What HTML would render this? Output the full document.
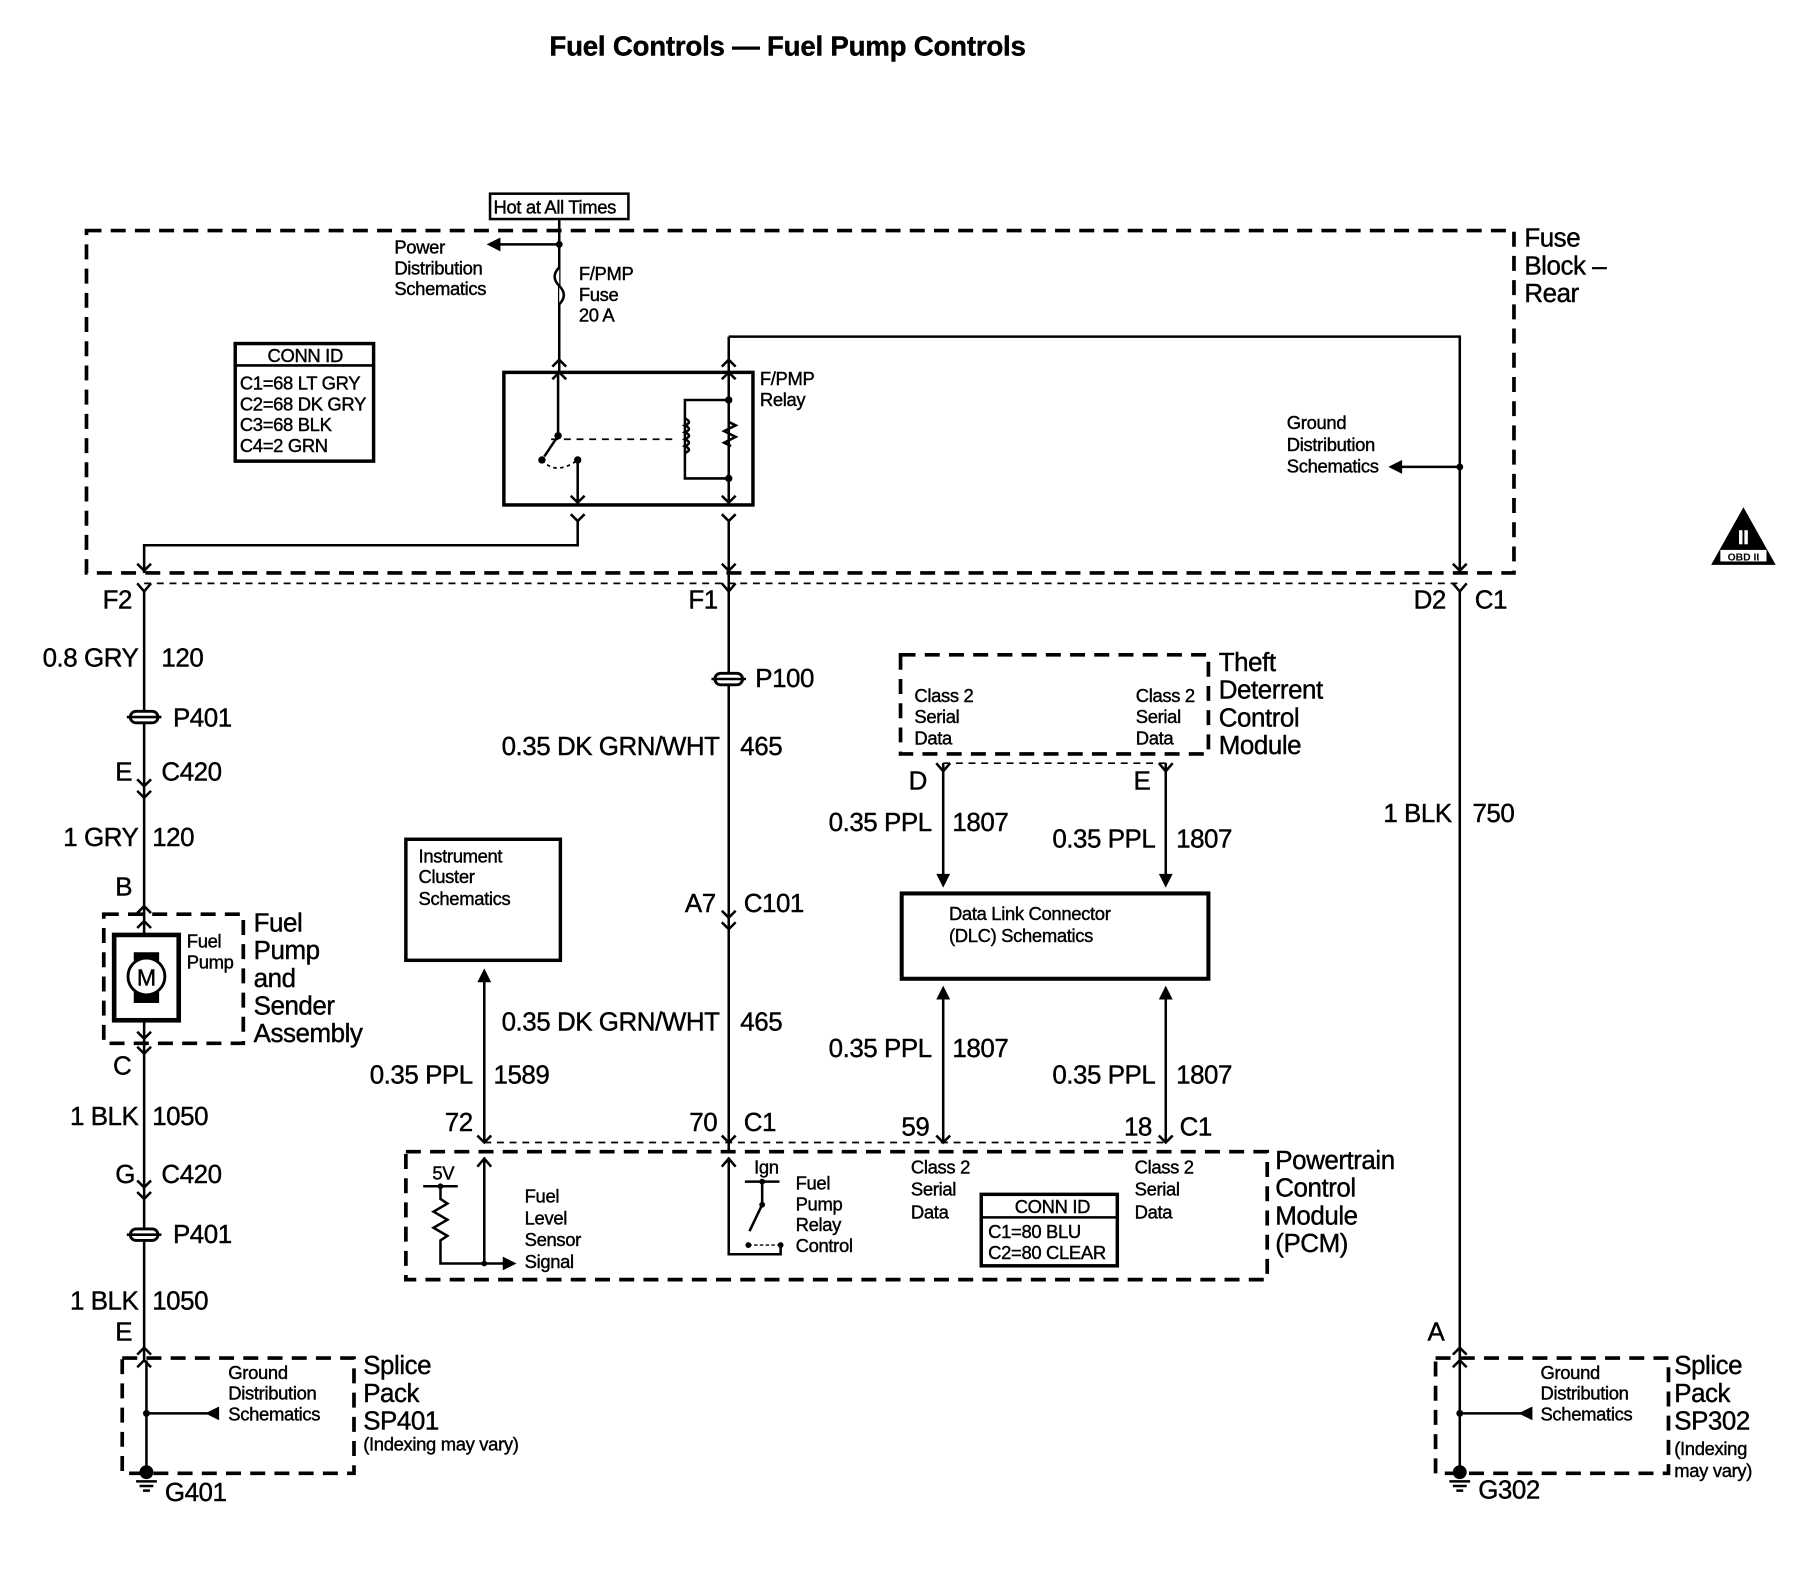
<!DOCTYPE html>
<html><head><meta charset="utf-8">
<style>
html,body{margin:0;padding:0;background:#fff;}
svg{display:block;}
text{font-family:"Liberation Sans",Arial,sans-serif;fill:#000;stroke:#000;stroke-width:0.35;}
.s{font-size:16px;letter-spacing:-0.3px;}
.m{font-size:22.5px;letter-spacing:-0.4px;}
.w{stroke:#000;stroke-width:2.2;fill:none;}
.t{stroke:#000;stroke-width:3;fill:none;}
.d{stroke:#000;stroke-width:3.2;fill:none;stroke-dasharray:13,8;}
.dd{stroke:#000;stroke-width:1.5;fill:none;stroke-dasharray:6,5;}
</style></head><body>
<svg width="1808" height="1584" viewBox="0 0 1568 1374" preserveAspectRatio="none" xmlns="http://www.w3.org/2000/svg">
<text x="683" y="48" text-anchor="middle" style="font-size:24px;font-weight:bold;letter-spacing:-0.2px">Fuel Controls — Fuel Pump Controls</text>

<rect x="425" y="168" width="120" height="22" class="w"/>
<text x="428" y="185" class="s">Hot at All Times</text>
<path class="w" d="M485 190 V323"/>
<circle cx="485" cy="212" r="3"/>
<path class="w" d="M485 212 H428"/>
<path d="M422 212 L434 206 L434 218 Z"/>
<text class="s" x="342" y="220">Power</text>
<text class="s" x="342" y="238">Distribution</text>
<text class="s" x="342" y="256">Schematics</text>
<path d="M485 232 q-8 8 0 16 q8 8 0 16" stroke="#000" stroke-width="2.2" fill="#fff"/>
<text class="s" x="502" y="243">F/PMP</text>
<text class="s" x="502" y="261">Fuse</text>
<text class="s" x="502" y="279">20 A</text>

<rect x="75" y="200" width="1238" height="297" class="d"/>
<text class="m" x="1322" y="214">Fuse</text>
<text class="m" x="1322" y="238">Block –</text>
<text class="m" x="1322" y="262">Rear</text>

<rect x="204" y="298" width="120" height="102" class="t"/>
<path class="w" d="M204 317 H324"/>
<text class="s" x="232" y="314">CONN ID</text>
<text class="s" x="208" y="338">C1=68 LT GRY</text>
<text class="s" x="208" y="356">C2=68 DK GRY</text>
<text class="s" x="208" y="374">C3=68 BLK</text>
<text class="s" x="208" y="392">C4=2 GRN</text>

<rect x="437" y="323" width="216" height="115" class="t"/>
<path class="w" d="M479 318 L485 312 L491 318 M479 329 L485 323 L491 329 M626 318 L632 312 L638 318 M626 329 L632 323 L638 329"/>
<path class="w" d="M484 323 V378 L472 396"/>
<circle cx="484" cy="378" r="3.2"/><circle cx="470" cy="399" r="3.2"/>
<circle cx="501" cy="399" r="3.2"/>
<path class="dd" d="M478 381 H585"/>
<path d="M470 399 q12 14 31 0" stroke="#000" stroke-width="1.5" fill="none" stroke-dasharray="3,3"/>
<path class="w" d="M501 399 V438 M495 430 L501 436 L507 430"/>
<path class="w" d="M632 323 V438 M626 430 L632 436 L638 430"/>
<path class="w" d="M632 347 H594 V415 H632"/>
<circle cx="632" cy="347" r="3.2"/><circle cx="632" cy="415" r="3.2"/>
<path class="w" d="M594 363 q7 3 0 6 q7 3 0 6 q7 3 0 6 q7 3 0 6 q7 3 0 6"/>
<path class="w" d="M632 366 l6 3 l-10 5 l10 5 l-10 5 l6 3"/>
<text class="s" x="659" y="334">F/PMP</text>
<text class="s" x="659" y="352">Relay</text>

<path class="w" d="M495 446 L501 452 L507 446 M501 452 V473 H125 V497 M626 446 L632 452 L638 446 M632 452 V1000"/>
<path class="w" d="M632 292 V323 M632 292 H1266 V497"/>
<circle cx="1266" cy="405" r="3"/>
<path class="w" d="M1266 405 H1212"/>
<path d="M1204 405 L1216 399 L1216 411 Z"/>
<text class="s" x="1116" y="372">Ground</text>
<text class="s" x="1116" y="391">Distribution</text>
<text class="s" x="1116" y="410">Schematics</text>
<path class="w" d="M119 489 L125 495 L131 489 M626 489 L632 495 L638 489 M1260 489 L1266 495 L1272 489"/>
<path class="dd" d="M125 506 H1266"/>
<path class="w" d="M119 506 L125 513 L131 506 M626 506 L632 513 L638 506 M1260 506 L1266 513 L1272 506"/>
<text class="m" x="89" y="528">F2</text>
<text class="m" x="597" y="528">F1</text>
<text class="m" x="1226" y="528">D2</text>
<text class="m" x="1279" y="528">C1</text>
<path d="M1512 440 L1540 490 L1484 490 Z"/>
<rect x="1492" y="477" width="40" height="10" fill="#fff"/>
<text x="1512" y="486" text-anchor="middle" style="font-size:9px;font-weight:bold;stroke-width:0">OBD II</text>
<text x="1512" y="472" text-anchor="middle" style="font-size:17px;font-weight:bold;fill:#fff;stroke:#fff;stroke-width:0.5">II</text>

<path class="w" d="M125 513 V1180"/>
<text class="m" x="120" y="578" text-anchor="end">0.8 GRY</text>
<text class="m" x="140" y="578">120</text>
<g id="pt"><rect x="113" y="617" width="24" height="10" rx="5" fill="#fff" stroke="#000" stroke-width="2.5"/><path class="w" d="M110 622 H140"/></g>
<text class="m" x="150" y="630">P401</text>
<text class="m" x="100" y="677">E</text><text class="m" x="140" y="677">C420</text>
<path class="w" d="M119 676 L125 682 L131 676 M119 686 L125 692 L131 686"/>
<text class="m" x="120" y="734" text-anchor="end">1 GRY</text><text class="m" x="132" y="734">120</text>
<text class="m" x="100" y="777">B</text>
<path class="w" d="M119 792 L125 786 L131 792 M119 805 L125 799 L131 805 M119 895 L125 901 L131 895 M119 908 L125 914 L131 908"/>
<rect x="90" y="793" width="121" height="112" class="d"/>
<rect x="99" y="811" width="56" height="74" stroke="#000" stroke-width="4" fill="#fff"/>
<rect x="116" y="826" width="22" height="44"/>
<circle cx="127" cy="847" r="16" fill="#fff" stroke="#000" stroke-width="2.5"/>
<text x="127" y="855" text-anchor="middle" style="font-size:20px">M</text>
<text class="s" x="162" y="822">Fuel</text><text class="s" x="162" y="840">Pump</text>
<text class="m" x="220" y="808">Fuel</text><text class="m" x="220" y="832">Pump</text><text class="m" x="220" y="856">and</text><text class="m" x="220" y="880">Sender</text><text class="m" x="220" y="904">Assembly</text>
<text class="m" x="98" y="932">C</text>
<text class="m" x="120" y="976" text-anchor="end">1 BLK</text><text class="m" x="132" y="976">1050</text>
<text class="m" x="100" y="1026">G</text><text class="m" x="140" y="1026">C420</text>
<path class="w" d="M119 1024 L125 1030 L131 1024 M119 1034 L125 1040 L131 1034"/>
<use href="#pt" y="449"/>
<text class="m" x="150" y="1078">P401</text>
<text class="m" x="120" y="1136" text-anchor="end">1 BLK</text><text class="m" x="132" y="1136">1050</text>
<text class="m" x="100" y="1163">E</text>
<path class="w" d="M119 1175 L125 1169 L131 1175 M119 1186 L125 1180 L131 1186"/>
<rect x="106" y="1178" width="201" height="100" class="d"/>
<path class="w" d="M127 1180 V1278 M127 1226 H184"/>
<circle cx="127" cy="1226" r="3"/>
<path d="M178 1226 L190 1220 L190 1232 Z"/>
<circle cx="127" cy="1277" r="6"/>
<path class="w" d="M118 1285 H136 M121 1289 H133 M124 1293 H130"/>
<text class="s" x="198" y="1196">Ground</text><text class="s" x="198" y="1214">Distribution</text><text class="s" x="198" y="1232">Schematics</text>
<text class="m" x="315" y="1192">Splice</text><text class="m" x="315" y="1216">Pack</text><text class="m" x="315" y="1240">SP401</text>
<text class="s" x="315" y="1258">(Indexing may vary)</text>
<text class="m" x="143" y="1302">G401</text>

<rect x="620" y="584" width="24" height="10" rx="5" fill="#fff" stroke="#000" stroke-width="2.5"/><path class="w" d="M617 589 H647"/>
<text class="m" x="655" y="596">P100</text>
<text class="m" x="624" y="655" text-anchor="end">0.35 DK GRN/WHT</text><text class="m" x="642" y="655">465</text>
<text class="m" x="594" y="791">A7</text><text class="m" x="645" y="791">C101</text>
<path class="w" d="M626 790 L632 796 L638 790 M626 800 L632 806 L638 800"/>
<text class="m" x="624" y="894" text-anchor="end">0.35 DK GRN/WHT</text><text class="m" x="642" y="894">465</text>
<text class="m" x="622" y="981" text-anchor="end">70</text><text class="m" x="645" y="981">C1</text>

<rect x="352" y="728" width="134" height="105" class="t"/>
<text class="s" x="363" y="748">Instrument</text><text class="s" x="363" y="766">Cluster</text><text class="s" x="363" y="785">Schematics</text>
<path class="w" d="M420 850 V990"/><path d="M420 840 L414 852 L426 852 Z"/>
<text class="m" x="410" y="940" text-anchor="end">0.35 PPL</text><text class="m" x="428" y="940">1589</text>
<text class="m" x="410" y="981" text-anchor="end">72</text>

<path class="dd" d="M420 991 H1011"/>
<path class="w" d="M414 985 L420 991 L426 985 M626 985 L632 991 L638 985 M812 985 L818 991 L824 985 M1005 985 L1011 991 L1017 985"/>
<rect x="352" y="999" width="747" height="111" class="d"/>
<text class="m" x="1106" y="1014">Powertrain</text><text class="m" x="1106" y="1038">Control</text><text class="m" x="1106" y="1062">Module</text><text class="m" x="1106" y="1086">(PCM)</text>
<text class="s" x="375" y="1023">5V</text>
<path class="w" d="M367 1029 H397 M382 1029 V1040 l6 4 l-12 7 l12 7 l-12 7 l12 7 l-6 4 V1096 H440"/>
<circle cx="382" cy="1029" r="2.5"/><circle cx="420" cy="1096" r="2.5"/>
<path d="M448 1096 L436 1090 L436 1102 Z"/>
<path class="w" d="M420 1096 V1004 M414 1012 L420 1005 L426 1012"/>
<text class="s" x="455" y="1043">Fuel</text><text class="s" x="455" y="1062">Level</text><text class="s" x="455" y="1081">Sensor</text><text class="s" x="455" y="1100">Signal</text>
<path class="w" d="M632 1004 V1088 H677 V1080 M626 1012 L632 1005 L638 1012 M646 1025 H676 M661 1025 V1045 L650 1068"/>
<circle cx="661" cy="1025" r="2.5"/><circle cx="661" cy="1045" r="2.5"/><circle cx="649" cy="1080" r="2.5"/><circle cx="677" cy="1080" r="2.5"/>
<path d="M649 1080 H677" stroke="#000" stroke-width="1.2" stroke-dasharray="3,2"/>
<text class="s" x="654" y="1018">Ign</text>
<text class="s" x="690" y="1032">Fuel</text><text class="s" x="690" y="1050">Pump</text><text class="s" x="690" y="1068">Relay</text><text class="s" x="690" y="1086">Control</text>
<text class="s" x="790" y="1018">Class 2</text><text class="s" x="790" y="1037">Serial</text><text class="s" x="790" y="1057">Data</text>
<text class="s" x="984" y="1018">Class 2</text><text class="s" x="984" y="1037">Serial</text><text class="s" x="984" y="1057">Data</text>
<rect x="851" y="1036" width="118" height="62" class="t"/>
<path class="w" d="M851 1056 H969"/>
<text class="s" x="880" y="1052">CONN ID</text>
<text class="s" x="857" y="1074">C1=80 BLU</text><text class="s" x="857" y="1092">C2=80 CLEAR</text>

<rect x="781" y="568" width="267" height="86" class="d"/>
<text class="s" x="793" y="609">Class 2</text><text class="s" x="793" y="627">Serial</text><text class="s" x="793" y="646">Data</text>
<text class="s" x="985" y="609">Class 2</text><text class="s" x="985" y="627">Serial</text><text class="s" x="985" y="646">Data</text>
<text class="m" x="1057" y="582">Theft</text><text class="m" x="1057" y="606">Deterrent</text><text class="m" x="1057" y="630">Control</text><text class="m" x="1057" y="654">Module</text>
<path class="dd" d="M818 662 H1011"/>
<path class="w" d="M812 662 L818 669 L824 662 M1005 662 L1011 669 L1017 662 M818 662 V760 M1011 662 V760"/>
<path d="M818 770 L812 758 L824 758 Z M1011 770 L1005 758 L1017 758 Z"/>
<text class="m" x="788" y="685">D</text><text class="m" x="983" y="685">E</text>
<text class="m" x="808" y="721" text-anchor="end">0.35 PPL</text><text class="m" x="826" y="721">1807</text>
<text class="m" x="1002" y="735" text-anchor="end">0.35 PPL</text><text class="m" x="1020" y="735">1807</text>
<rect x="782" y="775" width="266" height="74" stroke="#000" stroke-width="3.5" fill="none"/>
<text class="s" x="823" y="798">Data Link Connector</text><text class="s" x="823" y="817">(DLC) Schematics</text>
<path class="w" d="M818 866 V991 M1011 866 V991"/>
<path d="M818 855 L812 867 L824 867 Z M1011 855 L1005 867 L1017 867 Z"/>
<text class="m" x="808" y="917" text-anchor="end">0.35 PPL</text><text class="m" x="826" y="917">1807</text>
<text class="m" x="1002" y="940" text-anchor="end">0.35 PPL</text><text class="m" x="1020" y="940">1807</text>
<text class="m" x="806" y="985" text-anchor="end">59</text>
<text class="m" x="999" y="985" text-anchor="end">18</text><text class="m" x="1023" y="985">C1</text>

<path class="w" d="M1266 513 V1180"/>
<text class="m" x="1259" y="713" text-anchor="end">1 BLK</text><text class="m" x="1277" y="713">750</text>
<text class="m" x="1238" y="1163">A</text>
<path class="w" d="M1260 1175 L1266 1169 L1272 1175 M1260 1186 L1266 1180 L1272 1186"/>
<rect x="1245" y="1178" width="202" height="100" class="d"/>
<path class="w" d="M1266 1180 V1278 M1266 1226 H1323"/>
<circle cx="1266" cy="1226" r="3"/>
<path d="M1317 1226 L1329 1220 L1329 1232 Z"/>
<circle cx="1266" cy="1277" r="6"/>
<path class="w" d="M1257 1285 H1275 M1260 1289 H1272 M1263 1293 H1269"/>
<text class="s" x="1336" y="1196">Ground</text><text class="s" x="1336" y="1214">Distribution</text><text class="s" x="1336" y="1232">Schematics</text>
<text class="m" x="1452" y="1192">Splice</text><text class="m" x="1452" y="1216">Pack</text><text class="m" x="1452" y="1240">SP302</text>
<text class="s" x="1452" y="1262">(Indexing</text><text class="s" x="1452" y="1281">may vary)</text>
<text class="m" x="1282" y="1300">G302</text>
</svg>
</body></html>
